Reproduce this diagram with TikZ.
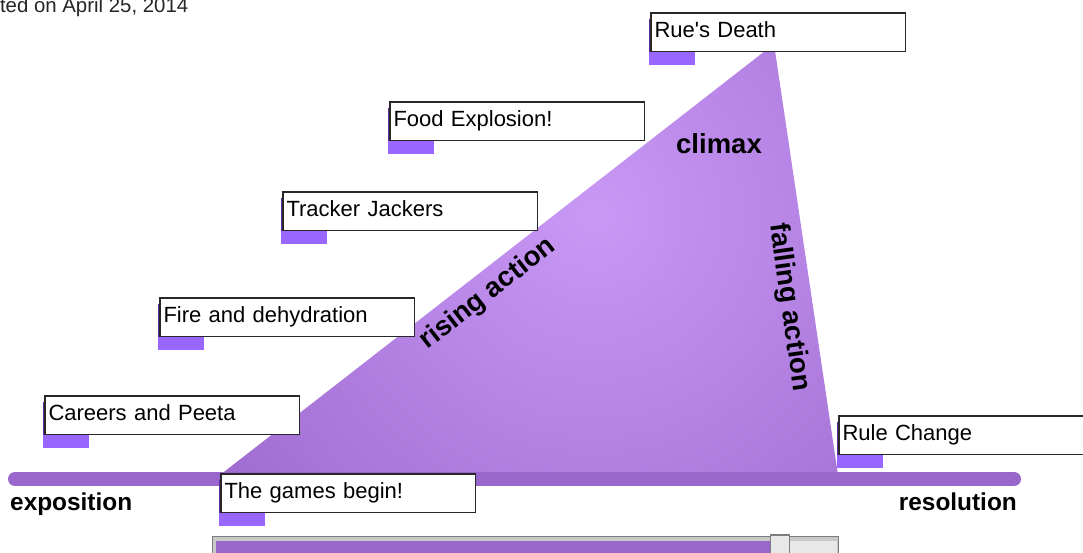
\documentclass[tikz,border=0pt]{standalone}
\usepackage{fontspec}
\setmainfont{Liberation Sans}
\usetikzlibrary{calc}
\pgfdeclarelayer{bg}
\pgfdeclarelayer{tabs}
\pgfsetlayers{bg,tabs,main}
\definecolor{barc}{RGB}{153,102,204}
\definecolor{tabc}{RGB}{153,102,255}
\definecolor{tabedge}{RGB}{95,45,160}
\definecolor{triin}{RGB}{201,153,246}
\definecolor{triout}{RGB}{158,106,207}
\definecolor{boxline}{RGB}{40,40,40}
\definecolor{sliderframe}{RGB}{125,125,125}
\definecolor{sliderlight}{RGB}{200,200,200}
\definecolor{slidergray}{RGB}{232,232,232}
\tikzset{
  evbox/.style={draw=boxline, line width=1.1pt, fill=white, anchor=north west,
    minimum width=254.5pt, minimum height=38.5pt, text width=247.5pt,
    inner xsep=3.5pt, inner ysep=0pt, text height=16pt, text depth=6pt,
    align=left, font=\fontsize{22}{26}\selectfont, outer sep=0pt},
  phase/.style={inner sep=0pt, font=\bfseries\fontsize{24.4}{28}\selectfont},
  bigphase/.style={inner sep=0pt, font=\bfseries\fontsize{27.5}{31}\selectfont},
  tabfill/.style={fill=tabc},
  tabline/.style={draw=tabedge, line width=1pt},
  timeline/.style={draw=barc, line width=14pt, line cap=round}
}
\newcommand\evtab[1]{%
  \fill[tabfill] ($(#1.north west)+(-2,5.5)$) rectangle ($(#1.south west)+(44,13.5)$);
  \draw[tabline] ($(#1.north west)+(-1.5,5.5)$) -- ($(#1.south west)+(-1.5,0)$);}
\begin{document}
\begin{tikzpicture}[x=1pt,y=-1pt]
\clip (0,0) rectangle (1083,552);

% event boxes
\node[evbox] (rue) at (651,13) {Rue\textquotesingle s Death};
\node[evbox] (food) at (390,102) {Food Explosion!};
\node[evbox] (tracker) at (283,192) {Tracker Jackers};
\node[evbox] (fire) at (160,298) {Fire and dehydration};
\node[evbox] (careers) at (45,396) {Careers and Peeta};
\node[evbox] (games) at (221,474) {The games begin!};
\node[evbox] (rule) at (839,416) {Rule Change};

\begin{pgfonlayer}{tabs}
  \evtab{rue}\evtab{food}\evtab{tracker}\evtab{fire}\evtab{careers}\evtab{games}\evtab{rule}
\end{pgfonlayer}

% plot triangle and timeline
\coordinate (apex) at (774,44);
\coordinate (lbase) at (220,475);
\coordinate (rbase) at (838,475);
\coordinate (tl) at (15,479);
\coordinate (tr) at (1014,479);
\begin{pgfonlayer}{bg}
  \fill[white] (0,0) rectangle (1083,552);
  \begin{scope}
    \clip (lbase) -- (apex) -- (rbase) -- cycle;
    \shade[inner color=triin, outer color=triout] (595,215) circle (470);
  \end{scope}
  \draw[timeline] (tl) -- (tr);
\end{pgfonlayer}

% phase labels
\node[bigphase, anchor=base] (climax) at (719,153) {climax};
\node[bigphase, rotate=38] (rising) at (488,294) {rising action};
\node[bigphase, rotate=-82] (falling) at (789,307) {falling action};
\node[phase, anchor=base west] (expo) at (10,510) {exposition};
\node[phase, anchor=base east] (reso) at (1017,510) {resolution};

% date
\node[anchor=base east, inner sep=0pt, text=black!85, font=\fontsize{20.4}{24}\selectfont] (date) at (188.5,12.7) {ted on April 25, 2014};

% slider
\coordinate (s1) at (212.5,536.5);
\coordinate (s2) at (838.5,575);
\fill[sliderlight] (s1) rectangle (s2);
\draw[sliderframe, line width=1.6pt] (s1) rectangle (s2);
\fill[barc] (216,540.5) rectangle (770,575);
\fill[slidergray] (790,540.5) rectangle (836.5,575);
\draw[sliderframe, line width=1.5pt, fill=slidergray] (770.5,535) rectangle (789.5,575);
\end{tikzpicture}
\end{document}
